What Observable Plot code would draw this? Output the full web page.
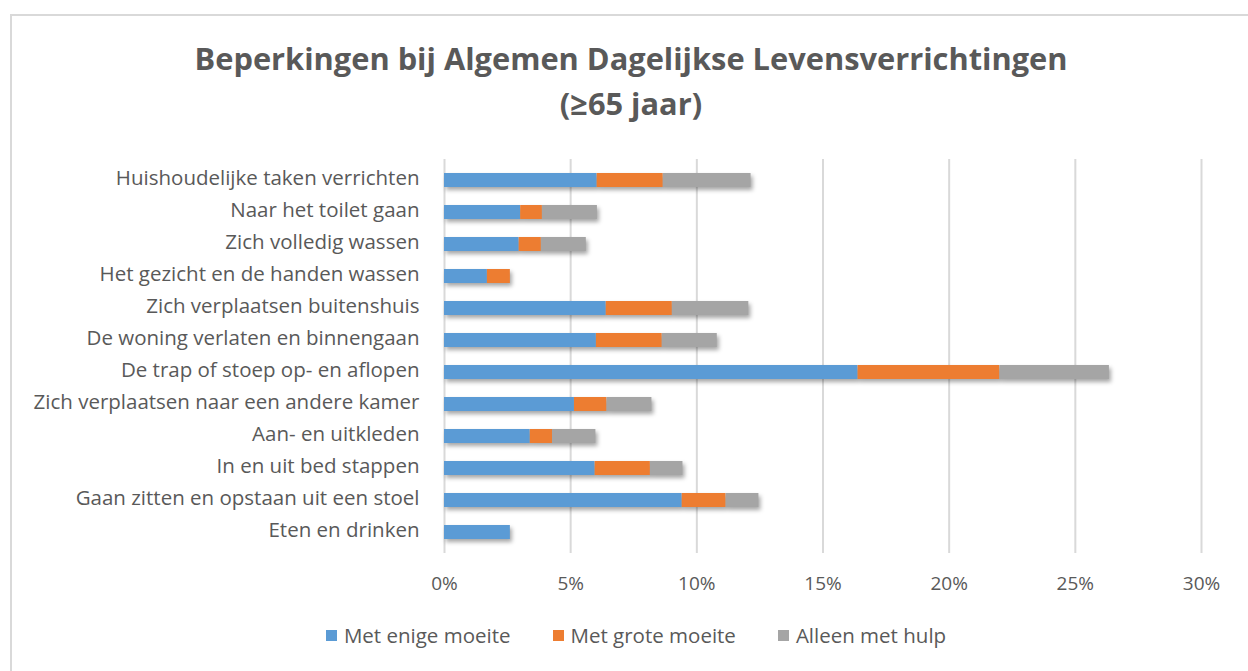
<!DOCTYPE html>
<html>
<head>
<meta charset="utf-8">
<script src="https://cdn.jsdelivr.net/npm/d3@7"></script>
<script src="https://cdn.jsdelivr.net/npm/@observablehq/plot@0.6"></script>
<style>
  html, body { margin: 0; padding: 0; background: #fff; overflow: hidden; }
  body { width: 1248px; height: 671px; position: relative; font-family: "Open Sans", sans-serif; color: #595959; }
  #frame { position: absolute; left: 10px; top: 14px; width: 1260px; height: 700px; border: 2px solid #d9d9d9; box-sizing: border-box; }
  #title { position: absolute; left: 0; width: 1262px; top: 36px; text-align: center; font-size: 30.8px; font-weight: 700; line-height: 45px; color: #595959; }
  #chart { position: absolute; left: 0; top: 0; }
  #chart svg g[aria-label="bar"] { filter: drop-shadow(2px 3px 2px rgba(0,0,0,0.35)); }
  #legend { position: absolute; top: 621px; left: 0; width: 1272px; display: flex; justify-content: center; gap: 42px; font-size: 20.5px; }
  .item { display: flex; align-items: center; gap: 7px; }
  .sw { width: 11px; height: 11px; display: inline-block; }
</style>
</head>
<body>
<div id="frame"></div>
<div id="title">Beperkingen bij Algemen Dagelijkse Levensverrichtingen<br>(≥65 jaar)</div>
<div id="chart"></div>
<div id="legend"></div>
<script>
const categories = [
  "Huishoudelijke taken verrichten",
  "Naar het toilet gaan",
  "Zich volledig wassen",
  "Het gezicht en de handen wassen",
  "Zich verplaatsen buitenshuis",
  "De woning verlaten en binnengaan",
  "De trap of stoep op- en aflopen",
  "Zich verplaatsen naar een andere kamer",
  "Aan- en uitkleden",
  "In en uit bed stappen",
  "Gaan zitten en opstaan uit een stoel",
  "Eten en drinken"
];
const seriesNames = ["Met enige moeite", "Met grote moeite", "Alleen met hulp"];
const metEnigeMoeite = [6.05, 3.02, 2.96, 1.70, 6.41, 6.02, 16.39, 5.15, 3.40, 5.97, 9.42, 2.61];
const metGroteMoeite = [2.62, 0.86, 0.88, 0.91, 2.62, 2.61, 5.62, 1.29, 0.88, 2.19, 1.74, 0];
const alleenMetHulp  = [3.48, 2.18, 1.78, 0, 3.03, 2.18, 4.34, 1.78, 1.72, 1.29, 1.30, 0];
const xTicks = [0, 5, 10, 15, 20, 25, 30];
const colors = ["#5B9BD5", "#ED7D31", "#A5A5A5"];

const seriesValues = [metEnigeMoeite, metGroteMoeite, alleenMetHulp];
const data = [];
seriesNames.forEach((s, si) => {
  categories.forEach((c, ci) => {
    data.push({category: c, series: s, value: seriesValues[si][ci] / 100});
  });
});

const chart = Plot.plot({
  width: 1248,
  height: 671,
  marginLeft: 444,
  marginRight: 47,
  marginTop: 159,
  marginBottom: 118,
  style: {fontFamily: "'Open Sans', sans-serif", fontSize: "17px", color: "#595959", background: "transparent"},
  x: {domain: [0, 0.30], ticks: xTicks.map(d => d / 100), tickFormat: d => Math.round(d * 100) + "%", grid: false, label: null},
  y: {domain: categories, paddingInner: 0.575, paddingOuter: 0.27, label: null},
  color: {domain: seriesNames, range: colors},
  marks: [
    Plot.gridX(xTicks.map(d => d / 100), {stroke: "#d9d9d9", strokeOpacity: 1, strokeWidth: 2}),
    Plot.barX(data, Plot.stackX({y: "category", x: "value", fill: "series", order: seriesNames})),
    Plot.axisX(xTicks.map(d => d / 100), {tickSize: 0, tickPadding: 23, tickFormat: d => Math.round(d * 100) + "%", fontSize: 19, fill: "#595959", label: null}),
    Plot.axisY({tickSize: 0, tickPadding: 25, fontSize: 20.5, fill: "#595959", label: null, dy: -2})
  ]
});
document.getElementById("chart").appendChild(chart);

const legend = document.getElementById("legend");
seriesNames.forEach((s, i) => {
  const it = document.createElement("div");
  it.className = "item";
  const sw = document.createElement("span");
  sw.className = "sw";
  sw.style.background = colors[i];
  const t = document.createElement("span");
  t.textContent = s;
  it.appendChild(sw); it.appendChild(t);
  legend.appendChild(it);
});
</script>
</body>
</html>
